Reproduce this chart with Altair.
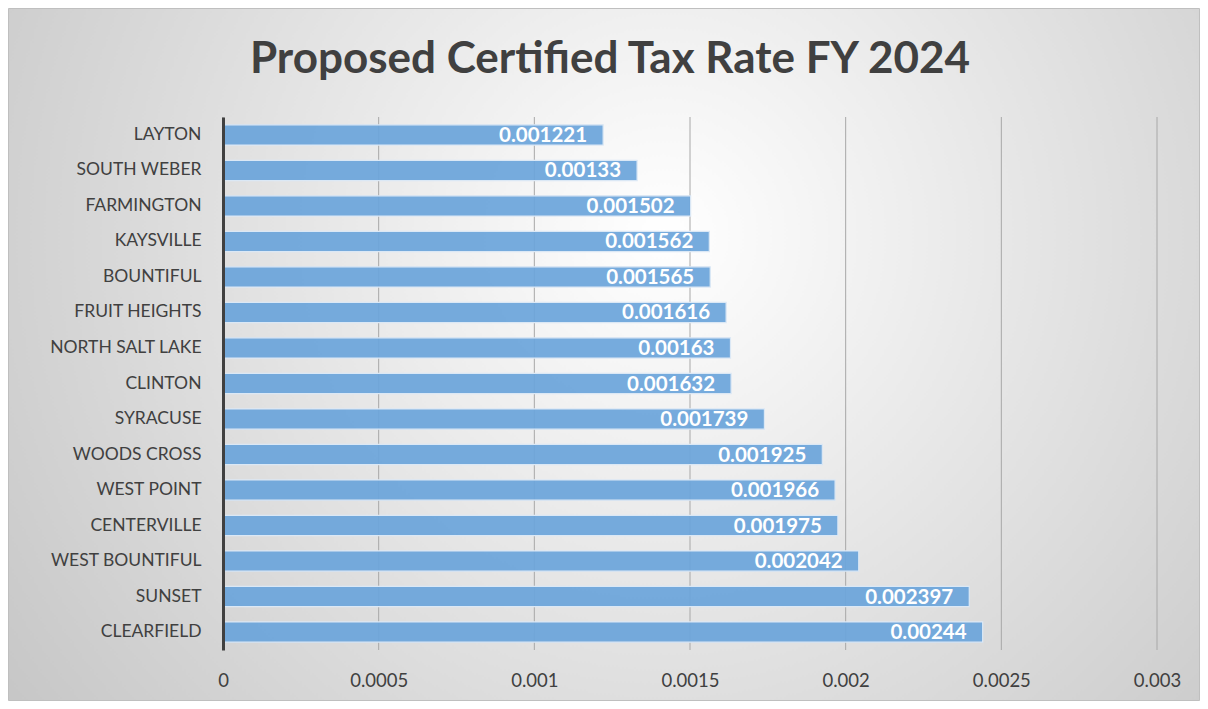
import altair as alt
import pandas as pd

cities = ["LAYTON", "SOUTH WEBER", "FARMINGTON", "KAYSVILLE", "BOUNTIFUL",
          "FRUIT HEIGHTS", "NORTH SALT LAKE", "CLINTON", "SYRACUSE", "WOODS CROSS",
          "WEST POINT", "CENTERVILLE", "WEST BOUNTIFUL", "SUNSET", "CLEARFIELD"]
rates = [0.001221, 0.00133, 0.001502, 0.001562, 0.001565,
         0.001616, 0.00163, 0.001632, 0.001739, 0.001925,
         0.001966, 0.001975, 0.002042, 0.002397, 0.00244]
ticks = [0, 0.0005, 0.001, 0.0015, 0.002, 0.0025, 0.003]
title_text = "Proposed Certified Tax Rate FY 2024"

df = pd.DataFrame({"city": cities, "rate": rates, "label": [str(r) for r in rates]})
grid_df = pd.DataFrame({"t": ticks})

W, H = 934, 533
PL, PT, PR, PB = 215, 109, 43, 51
FONT = "Lato"

xscale = alt.Scale(domain=[0, 0.003], nice=False)
yscale = alt.Scale(domain=cities, paddingInner=0.43, paddingOuter=0.22)

xaxis = alt.Axis(values=ticks, format="~g", grid=False, domain=False, ticks=False,
                 labelFont=FONT, labelFontSize=18.5, labelColor="#404040",
                 labelPadding=21, labelFlush=False, labelOverlap=False, zindex=1)
yaxis = alt.Axis(domain=True, domainColor="#404040", domainWidth=3, ticks=False,
                 grid=False, labelFont=FONT, labelFontSize=17.5, labelColor="#404040",
                 labelPadding=22, zindex=1)

bg = alt.Chart(alt.Data(values=[{"t": title_text}])).mark_rect(
    fill=alt.Gradient(
        gradient="radial", x1=0.55, y1=0.4, r1=0, x2=0.55, y2=0.4, r2=0.75,
        stops=[alt.GradientStop(offset=0, color="#ffffff"),
               alt.GradientStop(offset=1, color="#c0c0c0")]),
    stroke="#bfbfbf", strokeWidth=1
).encode(
    x=alt.value(-PL + 0.5), x2=alt.value(W + PR - 0.5),
    y=alt.value(-PT + 0.5), y2=alt.value(H + PB - 0.5)
)

title = alt.Chart(alt.Data(values=[{"t": title_text}])).mark_text(
    font=FONT, fontSize=44, fontWeight="bold", color="#404040",
    align="center", baseline="alphabetic"
).encode(
    x=alt.value(W / 2 - 80), y=alt.value(-44), text="t:N"
)

grid = alt.Chart(grid_df).mark_rule(color="#a8a8a8", strokeWidth=1).encode(
    x=alt.X("t:Q", scale=xscale, title=None, axis=xaxis),
    y=alt.value(0), y2=alt.value(H)
)

bars = alt.Chart(df).mark_bar(
    color="#6CA5DA", fillOpacity=0.93, stroke="#dbe8f5", strokeWidth=1.2
).encode(
    x=alt.X("rate:Q", scale=xscale, title=None, axis=xaxis),
    y=alt.Y("city:N", scale=yscale, sort=None, title=None, axis=yaxis)
)

text = alt.Chart(df).mark_text(
    align="right", baseline="middle", dx=-16, dy=1, color="white",
    font=FONT, fontWeight="bold", fontSize=20.5
).encode(
    x=alt.X("rate:Q", scale=xscale),
    y=alt.Y("city:N", scale=yscale, sort=None),
    text="label:N"
)

chart = alt.layer(bg, title, grid, bars, text).properties(
    width=W, height=H,
    padding={"left": PL, "top": PT, "right": PR, "bottom": PB},
    autosize=alt.AutoSizeParams(type="none"),
    background="white"
).configure_view(stroke=None)

chart.save("out.html", embed_options={"renderer": "svg", "actions": False})
